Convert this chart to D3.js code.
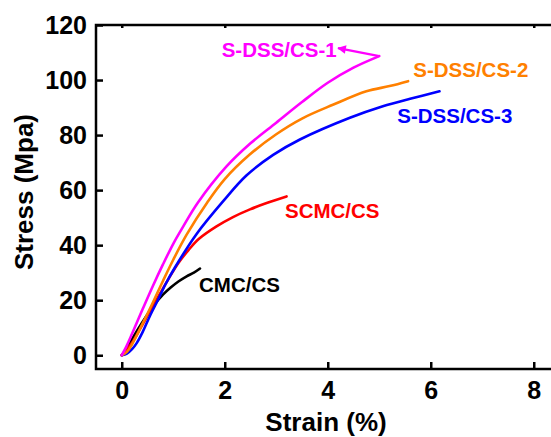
<!DOCTYPE html>
<html>
<head>
<meta charset="utf-8">
<script src="https://cdn.jsdelivr.net/npm/d3@7"></script>
<style>
  html, body { margin: 0; padding: 0; background: #fff; }
  svg { display: block; }
  text { font-family: "Liberation Sans", Arial, sans-serif; font-weight: bold; }
</style>
</head>
<body>
<svg id="chart" width="551" height="437"></svg>
<script>
// ---- Data (strain %, stress MPa) ----
const seriesNames = ["S-DSS/CS-1", "S-DSS/CS-2", "S-DSS/CS-3", "SCMC/CS", "CMC/CS"];
const seriesColors = ["#ff00ff", "#ff8000", "#0000ff", "#ff0000", "#000000"];

const strainCS1 = [0, 0.1, 0.2, 0.4, 0.6, 0.8, 1.0, 1.2, 1.48, 2.03, 2.5, 3.0, 3.5, 4.0, 4.5, 5.0];
const stressCS1 = [0, 3.6, 7.8, 16.5, 25.0, 33.0, 40.5, 47.0, 55.5, 68.5, 77.0, 84.5, 92.0, 99.0, 104.5, 108.7];

const strainCS2 = [0, 0.1, 0.2, 0.41, 0.6, 0.8, 1.0, 1.26, 1.66, 2.0, 2.49, 3.0, 3.5, 4.1, 4.75, 5.2, 5.56];
const stressCS2 = [0, 1.2, 4.0, 11.7, 19.0, 27.0, 34.7, 43.8, 55.5, 64.0, 73.0, 80.3, 86.0, 91.0, 95.9, 97.8, 99.6];

const strainCS3 = [0, 0.1, 0.2, 0.29, 0.4, 0.54, 0.7, 0.85, 1.03, 1.45, 1.97, 2.42, 2.94, 3.46, 4.43, 5.07, 5.6, 6.17];
const stressCS3 = [0, 0.6, 2.2, 4.4, 8.2, 14.0, 20.0, 25.8, 31.8, 44.0, 56.0, 65.3, 72.8, 78.4, 86.3, 90.5, 93.2, 95.9];

const strainSCMC = [0, 0.2, 0.4, 0.67, 0.9, 1.1, 1.3, 1.5, 1.84, 2.16, 2.49, 2.8, 3.2];
const stressSCMC = [0, 4.5, 11.0, 20.0, 27.5, 33.5, 38.3, 42.3, 46.8, 50.2, 53.0, 55.2, 57.7];

const strainCMC = [0, 0.1, 0.22, 0.4, 0.61, 0.8, 0.95, 1.1, 1.26, 1.4, 1.52];
const stressCMC = [0, 2.5, 6.5, 12.0, 17.8, 22.0, 24.6, 26.8, 28.7, 30.0, 31.5];

const xTicks = [0, 2, 4, 6, 8];
const yTicks = [0, 20, 40, 60, 80, 100, 120];

// label anchors (data units) and arrow for CS-1
const labelStrain = [1.94, 5.66, 5.35, 3.17, 1.50];
const labelStress = [108.4, 101.2, 84.4, 49.9, 23.1];
const arrowStrain = [5.0, 4.2];
const arrowStress = [108.7, 111.6];

const allStrain = [strainCS1, strainCS2, strainCS3, strainSCMC, strainCMC];
const allStress = [stressCS1, stressCS2, stressCS3, stressSCMC, stressCMC];

// ---- Chart ----
const svg = d3.select("#chart");
const x = d3.scaleLinear().domain([-0.5, 8.5]).range([96, 559.5]);
const y = d3.scaleLinear().domain([-5, 120]).range([369, 25]);

const font = "Liberation Sans, Arial, sans-serif";

// frame
svg.append("rect")
  .attr("x", x(-0.5)).attr("y", y(120))
  .attr("width", x(8.5) - x(-0.5)).attr("height", y(-5) - y(120))
  .attr("fill", "none").attr("stroke", "#000").attr("stroke-width", 2.5);

// axes
const yAxis = d3.axisLeft(y).tickValues(yTicks).tickSizeInner(-7).tickSizeOuter(0).tickPadding(9);
const gy = svg.append("g").attr("transform", `translate(${x(-0.5)},0)`).call(yAxis);
const xAxis = d3.axisBottom(x).tickValues(xTicks).tickSizeInner(-7).tickSizeOuter(0).tickPadding(12);
const gx = svg.append("g").attr("transform", `translate(0,${y(-5)})`).call(xAxis);
const xAxisTop = d3.axisTop(x).tickValues(xTicks).tickSizeInner(-3).tickSizeOuter(0).tickFormat("");
const gt = svg.append("g").attr("transform", `translate(0,${y(120)})`).call(xAxisTop);

[gy, gx, gt].forEach(g => {
  g.select(".domain").remove();
  g.selectAll(".tick line").attr("stroke", "#000").attr("stroke-width", 2.5);
  g.selectAll(".tick text").attr("fill", "#000").style("font-family", font)
    .style("font-weight", "bold").style("font-size", "25px");
});

// axis titles
svg.append("text")
  .attr("x", 326).attr("y", 431)
  .attr("text-anchor", "middle")
  .style("font-size", "26px")
  .text("Strain (%)");
svg.append("text")
  .attr("transform", "translate(33,192) rotate(-90)")
  .attr("text-anchor", "middle")
  .style("font-size", "26px")
  .text("Stress (Mpa)");

// curves
const line = d3.line().x(d => x(d[0])).y(d => y(d[1])).curve(d3.curveCatmullRom.alpha(0.5));
const curves = svg.append("g");
for (let i = seriesNames.length - 1; i >= 0; i--) {
  const pts = allStrain[i].map((s, j) => [s, allStress[i][j]]);
  curves.append("path")
    .datum(pts)
    .attr("d", line)
    .attr("fill", "none")
    .attr("stroke", seriesColors[i])
    .attr("stroke-width", 2.6)
    .attr("stroke-linejoin", "round")
    .attr("stroke-linecap", "round");
}

// arrow for CS-1
svg.append("defs").append("marker")
  .attr("id", "arrowhead")
  .attr("viewBox", "0 0 10 10")
  .attr("refX", 9).attr("refY", 5)
  .attr("markerWidth", 4.5).attr("markerHeight", 3.6)
  .attr("markerUnits", "strokeWidth")
  .attr("orient", "auto")
  .append("path").attr("d", "M0,0 L10,5 L0,10 Z").attr("fill", seriesColors[0]);

svg.append("line")
  .attr("x1", x(arrowStrain[0])).attr("y1", y(arrowStress[0]))
  .attr("x2", x(arrowStrain[1])).attr("y2", y(arrowStress[1]))
  .attr("stroke", seriesColors[0]).attr("stroke-width", 2.4)
  .attr("marker-end", "url(#arrowhead)");

// labels
seriesNames.forEach((name, i) => {
  svg.append("text")
    .attr("x", x(labelStrain[i])).attr("y", y(labelStress[i]))
    .attr("fill", seriesColors[i])
    .style("font-size", "20.5px")
    .text(name);
});
</script>
</body>
</html>
